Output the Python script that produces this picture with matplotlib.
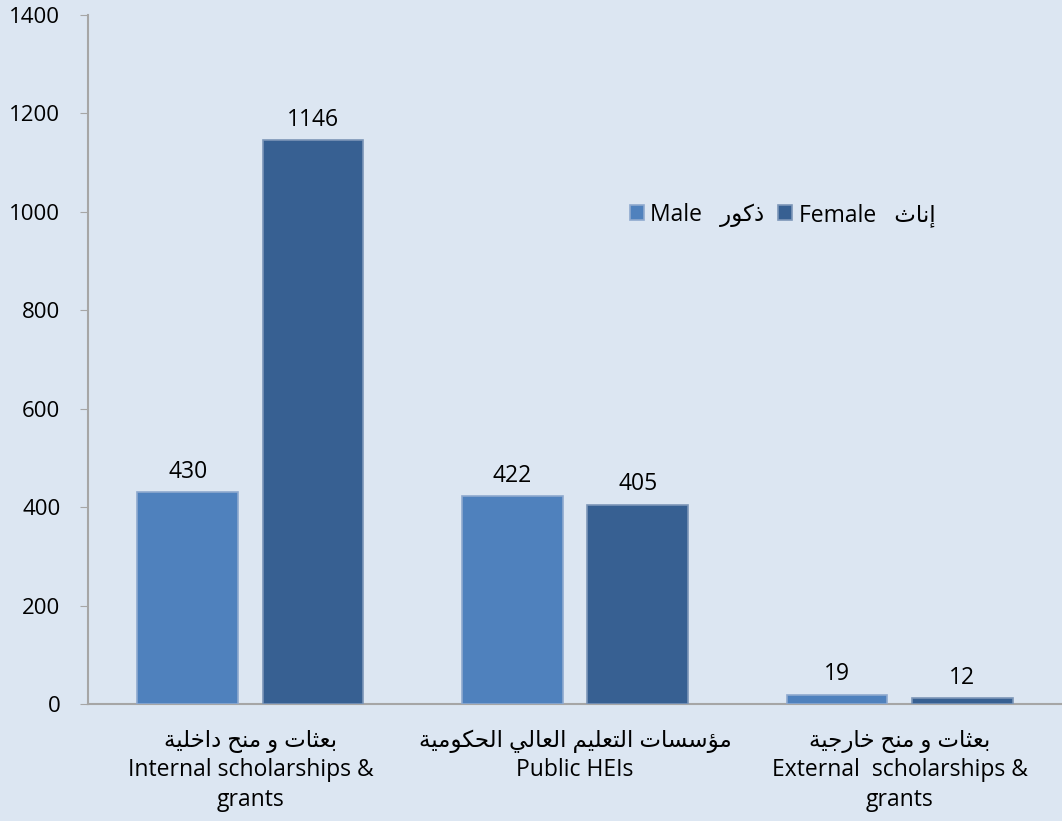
import numpy as np
import matplotlib
matplotlib.use("Agg")
import matplotlib.pyplot as plt

# data
categories_ar = ["بعثات و منح داخلية", "مؤسسات التعليم العالي الحكومية", "بعثات و منح خارجية"]
categories_en = ["Internal scholarships &\ngrants", "Public HEIs", "External  scholarships &\ngrants"]
male = [430, 422, 19]
female = [1146, 405, 12]
yticks = [0, 200, 400, 600, 800, 1000, 1200, 1400]

# presentation forms: (isolated, final, initial, medial); 2-tuples join only to the right
FORMS = {
    "ا": (0xFE8D, 0xFE8E), "إ": (0xFE87, 0xFE88), "ؤ": (0xFE85, 0xFE86),
    "ب": (0xFE8F, 0xFE90, 0xFE91, 0xFE92), "ة": (0xFE93, 0xFE94),
    "ت": (0xFE95, 0xFE96, 0xFE97, 0xFE98), "ث": (0xFE99, 0xFE9A, 0xFE9B, 0xFE9C),
    "ج": (0xFE9D, 0xFE9E, 0xFE9F, 0xFEA0), "ح": (0xFEA1, 0xFEA2, 0xFEA3, 0xFEA4),
    "خ": (0xFEA5, 0xFEA6, 0xFEA7, 0xFEA8), "د": (0xFEA9, 0xFEAA), "ذ": (0xFEAB, 0xFEAC),
    "ر": (0xFEAD, 0xFEAE), "س": (0xFEB1, 0xFEB2, 0xFEB3, 0xFEB4),
    "ع": (0xFEC9, 0xFECA, 0xFECB, 0xFECC), "ك": (0xFED9, 0xFEDA, 0xFEDB, 0xFEDC),
    "ل": (0xFEDD, 0xFEDE, 0xFEDF, 0xFEE0), "م": (0xFEE1, 0xFEE2, 0xFEE3, 0xFEE4),
    "ن": (0xFEE5, 0xFEE6, 0xFEE7, 0xFEE8), "و": (0xFEED, 0xFEEE),
    "ي": (0xFEF1, 0xFEF2, 0xFEF3, 0xFEF4),
}


# matplotlib has no arabic shaping, so do joining + right-to-left by hand
def shape(text):
    out = []
    for i, ch in enumerate(text):
        if ch not in FORMS:
            out.append(ch)
            continue
        f = FORMS[ch]
        prev = text[i - 1] if i > 0 else ""
        nxt = text[i + 1] if i + 1 < len(text) else ""
        joins_prev = prev in FORMS and len(FORMS[prev]) == 4
        joins_next = len(f) == 4 and nxt in FORMS
        if joins_prev and joins_next:
            out.append(chr(f[3]))
        elif joins_prev:
            out.append(chr(f[1]))
        elif joins_next:
            out.append(chr(f[2]))
        else:
            out.append(chr(f[0]))
    return "".join(out)[::-1]


fonts = ["Open Sans", "DejaVu Sans"]
plt.rcParams["font.family"] = fonts

bg = "#DCE6F2"
c_male = "#4F81BD"
c_female = "#376092"
grey = "#A6A6A6"

fig = plt.figure(figsize=(10.62, 8.21), dpi=100, facecolor=bg)
ax = fig.add_axes([0.083, 0.1425, 0.917, 0.8392])
ax.set_facecolor(bg)

x = np.arange(len(categories_en))
w = 0.31
off = 0.193
b1 = ax.bar(x - off, male, w, color=c_male, edgecolor="#8EA9CF", linewidth=1.2,
            label="Male   " + shape("ذكور"), zorder=3)
b2 = ax.bar(x + off, female, w, color=c_female, edgecolor="#7C96B8", linewidth=1.2,
            label="Female   " + shape("إناث"), zorder=3)

for bars in (b1, b2):
    for r in bars:
        ax.annotate(str(int(r.get_height())), (r.get_x() + r.get_width() / 2, r.get_height()),
                    xytext=(0, 6), textcoords="offset points", ha="center", va="bottom",
                    fontsize=16.5, color="black")

ax.set_xlim(-0.5, 2.5)
ax.set_ylim(0, 1400)
ax.set_yticks(yticks)
ax.tick_params(axis="y", length=6, color=grey, labelsize=16, pad=14)
ax.tick_params(axis="x", length=0, pad=18)
ax.set_xticks(x)
ax.set_xticklabels([shape(a) + "\n" + e for a, e in zip(categories_ar, categories_en)],
                   fontsize=16.5, linespacing=1.3)

for s in ("top", "right"):
    ax.spines[s].set_visible(False)
for s in ("left", "bottom"):
    ax.spines[s].set_color(grey)
    ax.spines[s].set_linewidth(1.5)

ax.legend(loc="center left", bbox_to_anchor=(0.535, 0.71), ncol=2, frameon=False,
          fontsize=16.5, handlelength=0.6, handleheight=0.6, handletextpad=0.3,
          columnspacing=0.6)

fig.savefig("out.png", dpi=100, facecolor=bg)
